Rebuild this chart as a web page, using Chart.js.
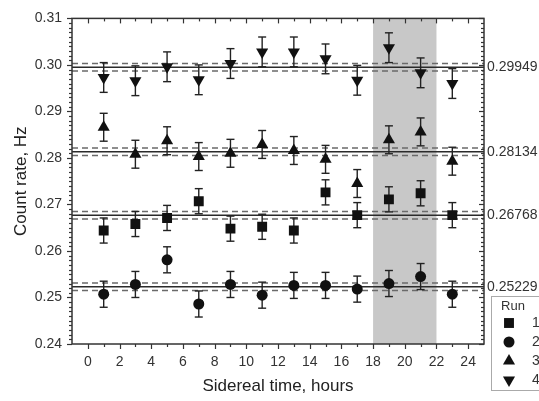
<!DOCTYPE html>
<html><head><meta charset="utf-8">
<script src="https://cdn.jsdelivr.net/npm/chart.js@4.4.0/dist/chart.umd.min.js"></script>
<style>html,body{margin:0;padding:0;background:#fff;} canvas{display:block;}</style>
</head><body>
<canvas id="c" width="539" height="401"></canvas>
<script>
// ---- data ----
const hours = [1, 3, 5, 7, 9, 11, 13, 15, 17, 19, 21, 23];
const run1 = [0.2644, 0.2658, 0.2671, 0.2707, 0.2648, 0.2652, 0.2644, 0.2726, 0.2677, 0.2711, 0.2724, 0.2677];
const run2 = [0.2507, 0.2528, 0.2581, 0.2486, 0.2528, 0.2505, 0.2526, 0.2526, 0.2518, 0.2530, 0.2545, 0.2507];
const run3 = [0.2866, 0.2808, 0.2837, 0.2803, 0.2810, 0.2829, 0.2816, 0.2797, 0.2745, 0.2839, 0.2856, 0.2793];
const run4 = [0.2973, 0.2966, 0.2996, 0.2968, 0.3003, 0.3028, 0.3028, 0.3013, 0.2967, 0.3037, 0.2983, 0.2960];
const err1 = [0.0027, 0.0027, 0.0027, 0.0027, 0.0027, 0.0027, 0.0027, 0.0027, 0.0027, 0.0027, 0.0027, 0.0027];
const err2 = [0.0028, 0.0028, 0.0028, 0.0028, 0.0028, 0.0028, 0.0028, 0.0028, 0.0028, 0.0028, 0.0028, 0.0028];
const err3 = [0.0030, 0.0030, 0.0030, 0.0030, 0.0030, 0.0030, 0.0030, 0.0030, 0.0030, 0.0030, 0.0030, 0.0030];
const err4 = [0.0032, 0.0032, 0.0032, 0.0032, 0.0032, 0.0032, 0.0032, 0.0032, 0.0032, 0.0032, 0.0032, 0.0032];
const runMeans = [0.26768, 0.25229, 0.28134, 0.29949];
const meanLabels = ['0.26768', '0.25229', '0.28134', '0.29949'];
const meanBand = [0.0008, 0.0008, 0.0008, 0.0008];
const runLabels = ['1', '2', '3', '4'];
const legendTitle = 'Run';
const xTicks = [0, 2, 4, 6, 8, 10, 12, 14, 16, 18, 20, 22, 24];
const yTicks = [0.24, 0.25, 0.26, 0.27, 0.28, 0.29, 0.30, 0.31];
const shadedHours = [18, 22];

const FONT = 'Liberation Sans, Arial, Helvetica, sans-serif';
const toPts = arr => hours.map((h, i) => ({x: h, y: arr[i]}));

const styles = [
  {pointStyle: 'rect', radius: 7, rotation: 0},
  {pointStyle: 'circle', radius: 5.5, rotation: 0},
  {pointStyle: 'triangle', radius: 7, rotation: 0},
  {pointStyle: 'triangle', radius: 7, rotation: 180}
];
const series = [run1, run2, run3, run4];
const errs = [err1, err2, err3, err4];

const datasets = series.map((s, i) => ({
  label: runLabels[i],
  data: toPts(s),
  errors: errs[i],
  showLine: false,
  pointStyle: styles[i].pointStyle,
  pointRadius: styles[i].radius,
  pointRotation: styles[i].rotation,
  pointBackgroundColor: '#111',
  pointBorderWidth: 0,
  pointHoverRadius: styles[i].radius
}));

function hline(ctx, x0, x1, y) { ctx.beginPath(); ctx.moveTo(x0, y); ctx.lineTo(x1, y); ctx.stroke(); }
function vline(ctx, x, y0, y1) { ctx.beginPath(); ctx.moveTo(x, y0); ctx.lineTo(x, y1); ctx.stroke(); }

const decor = {
  id: 'decor',
  beforeDatasetsDraw(chart) {
    const {ctx, chartArea: a, scales: {x, y}} = chart;
    ctx.save();
    ctx.fillStyle = '#c8c8c8';
    const x0 = x.getPixelForValue(shadedHours[0]), x1 = x.getPixelForValue(shadedHours[1]);
    ctx.fillRect(x0, a.top, x1 - x0, a.bottom - a.top);
    runMeans.forEach((m, i) => {
      ctx.lineWidth = 1.5;
      ctx.setLineDash([6, 4]);
      ctx.strokeStyle = '#6a6a6a';
      hline(ctx, a.left, a.right, y.getPixelForValue(m - meanBand[i]));
      hline(ctx, a.left, a.right, y.getPixelForValue(m + meanBand[i]));
      ctx.setLineDash([]);
      ctx.strokeStyle = '#2a2a2a';
      hline(ctx, a.left, a.right, y.getPixelForValue(m));
    });
    ctx.strokeStyle = '#222';
    ctx.lineWidth = 1.4;
    chart.data.datasets.forEach(ds => {
      ds.data.forEach((p, i) => {
        const px = x.getPixelForValue(p.x);
        const yt = y.getPixelForValue(p.y + ds.errors[i]);
        const yb = y.getPixelForValue(p.y - ds.errors[i]);
        vline(ctx, px, yt, yb);
        hline(ctx, px - 4, px + 4, yt);
        hline(ctx, px - 4, px + 4, yb);
      });
    });
    ctx.restore();
  },
  afterDraw(chart) {
    const {ctx, chartArea: a, scales: {x, y}} = chart;
    ctx.save();
    ctx.strokeStyle = '#333';
    ctx.lineWidth = 1.5;
    ctx.strokeRect(a.left, a.top, a.right - a.left, a.bottom - a.top);
    ctx.lineWidth = 1.2;
    for (let i = 0; i <= 70; i++) {
      const v = yTicks[0] + i * 0.001;
      const py = Math.round(y.getPixelForValue(v)) + 0.5;
      const len = i % 10 === 0 ? 5 : 3;
      hline(ctx, a.left - len, a.left, py);
      hline(ctx, a.right - len, a.right, py);
    }
    for (let h = xTicks[0]; h <= xTicks[xTicks.length - 1]; h++) {
      const px = Math.round(x.getPixelForValue(h)) + 0.5;
      const len = h % 2 === 0 ? 5 : 3;
      vline(ctx, px, a.bottom, a.bottom + len);
      vline(ctx, px, a.top, a.top + len);
    }
    // legend
    const lx = 491, ly = 296;
    ctx.strokeStyle = '#aaa';
    ctx.lineWidth = 1;
    ctx.strokeRect(lx + 0.5, ly + 0.5, 60, 94);
    ctx.fillStyle = '#333';
    ctx.font = '13px ' + FONT;
    ctx.textAlign = 'center';
    ctx.textBaseline = 'middle';
    ctx.fillText(legendTitle, 513, ly + 10);
    chart.data.datasets.forEach((ds, i) => {
      const cy = ly + 27 + i * 19;
      ctx.fillStyle = '#111';
      Chart.helpers.drawPoint(ctx, {pointStyle: ds.pointStyle, radius: ds.pointRadius, rotation: ds.pointRotation, borderWidth: 0}, 509, cy);
      ctx.fillStyle = '#333';
      ctx.font = '14px ' + FONT;
      ctx.textAlign = 'left';
      ctx.fillText(runLabels[i], 532, cy);
    });
    ctx.restore();
  }
};

new Chart(document.getElementById('c'), {
  type: 'scatter',
  data: {datasets},
  options: {
    responsive: false,
    animation: false,
    devicePixelRatio: 1,
    layout: {padding: {top: 11, left: 0, right: 0, bottom: 0}},
    plugins: {legend: {display: false}, tooltip: {enabled: false}},
    scales: {
      x: {
        type: 'linear', position: 'bottom', min: -1, max: 25,
        afterBuildTicks: s => { s.ticks = xTicks.map(v => ({value: v})); },
        afterFit: s => { s.height = 57; },
        grid: {display: false, drawTicks: false}, border: {display: false},
        ticks: {padding: 10, autoSkip: false, maxRotation: 0, color: '#333', font: {family: FONT, size: 14}},
        title: {display: true, text: 'Sidereal time, hours', color: '#222', font: {family: FONT, size: 17}, padding: {top: 0, bottom: 4}}
      },
      y: {
        type: 'linear', position: 'left', min: 0.24, max: 0.31,
        afterBuildTicks: s => { s.ticks = yTicks.map(v => ({value: v})); },
        afterFit: s => { s.width = 72; },
        grid: {display: false, drawTicks: false}, border: {display: false},
        ticks: {padding: 10, autoSkip: false, color: '#333', font: {family: FONT, size: 14}, callback: v => v.toFixed(2)},
        title: {display: true, text: 'Count rate, Hz', color: '#222', font: {family: FONT, size: 17}, padding: {top: 11, bottom: 0}}
      },
      y2: {
        type: 'linear', position: 'right', min: 0.24, max: 0.31,
        afterBuildTicks: s => { s.ticks = runMeans.map(v => ({value: v})); },
        afterFit: s => { s.width = 55; },
        grid: {display: false, drawTicks: false}, border: {display: false},
        ticks: {padding: 3, autoSkip: false, color: '#333', font: {family: FONT, size: 14},
                callback: v => meanLabels[runMeans.indexOf(v)]}
      }
    }
  },
  plugins: [decor]
});
</script>
</body></html>
